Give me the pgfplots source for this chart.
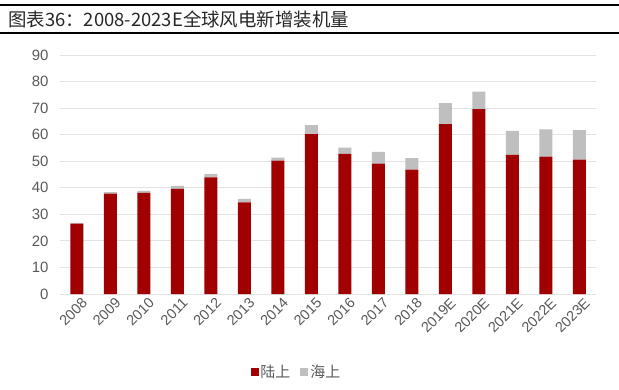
\documentclass[border=0pt]{standalone}
\usepackage{fontspec}
\setmainfont{Liberation Sans}
\newfontfamily\cjk{Noto Sans CJK SC}
\usepackage{pgfplots}
\pgfplotsset{compat=1.18}
\usepackage{pgfplotstable}
\definecolor{onshore}{HTML}{A00000}
\definecolor{offshore}{HTML}{BFBFBF}
\definecolor{ticktext}{HTML}{595959}
\definecolor{gridc}{HTML}{E3E3E3}
\pgfplotstableread{
x on off
0 26.5 0.3
1 37.8 0.6
2 38.1 0.7
3 39.6 1.1
4 43.9 1.3
5 34.5 1.3
6 50.2 1.2
7 60.2 3.4
8 52.8 2.3
9 49.1 4.4
10 46.8 4.4
11 64.0 7.9
12 69.6 6.6
13 52.4 9.0
14 51.7 10.3
15 50.6 11.1
}\datatable
\begin{document}
\begin{tikzpicture}
\useasboundingbox (0bp,0bp) rectangle (619bp,-390bp);
\draw[line width=2.5bp] (0bp,-5bp) -- (619bp,-5bp);
\draw[line width=2bp] (0bp,-33bp) -- (619bp,-33bp);
\node[anchor=west, inner sep=0pt, font=\cjk\fontsize{18.5}{19}\selectfont, text=black!85] at (8bp,-19bp) {图表36：2008-2023E全球风电新增装机量};
\begin{axis}[
  at={(60bp,-294bp)}, anchor=south west,
  scale only axis, width=536bp, height=239bp,
  ybar stacked, bar width=13bp,
  ymin=0, ymax=90, ytick={0,10,...,90},
  xmin=-0.5, xmax=15.5,
  xtick={0,...,15},
  xticklabels={2008,2009,2010,2011,2012,2013,2014,2015,2016,2017,2018,2019E,2020E,2021E,2022E,2023E},
  axis x line*=bottom, axis y line*=left,
  x axis line style={draw=gridc, line width=1bp, -},
  y axis line style={draw=none},
  major tick length=0pt,
  ymajorgrids, grid style={draw=gridc, line width=1bp},
  /pgf/number format/assume math mode=true,
  yticklabel style={font=\fontsize{15}{15}\selectfont, text=ticktext, xshift=-8bp},
  xticklabel style={font=\fontsize{14.5}{14.5}\selectfont, text=ticktext, rotate=45, anchor=north east, inner sep=1bp, yshift=-4bp, xshift=2bp},
  legend style={at={(0.441,-0.326)}, anchor=center, draw=none, fill=none,
    legend columns=2, font=\cjk\fontsize{15}{15}\selectfont, text=ticktext,
    /tikz/every even column/.append style={column sep=8bp}},
  legend image code/.code={\fill[#1] (0bp,-4bp) rectangle (8bp,4bp);},
]
\addplot[fill=onshore, draw=none] table[x=x, y=on] {\datatable};
\addplot[fill=offshore, draw=none] table[x=x, y=off] {\datatable};
\legend{陆上,海上}
\end{axis}
\end{tikzpicture}
\end{document}
